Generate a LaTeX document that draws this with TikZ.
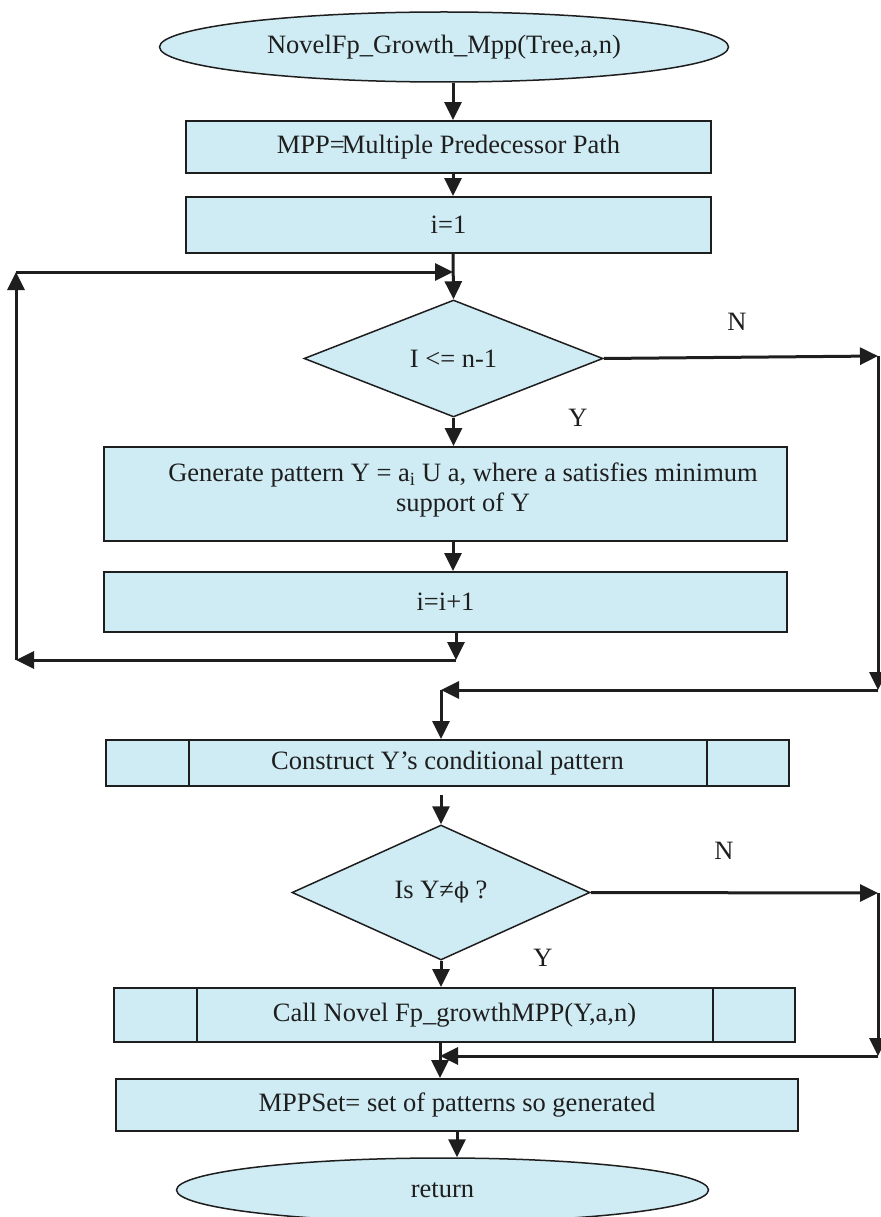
\documentclass[tikz,border=0pt]{standalone}
\usepackage{fontspec}
\setmainfont{Liberation Serif}
\newfontfamily\greekfont{DejaVu Serif}
\usetikzlibrary{shapes.geometric, arrows.meta, calc}
\definecolor{boxfill}{RGB}{207,235,243}
\definecolor{ink}{RGB}{30,30,30}

\begin{document}
\begin{tikzpicture}[x=1pt, y=-1pt,
  every node/.style={font=\fontsize{26.5}{30}\selectfont, text=ink},
  blk/.style={draw=ink, line width=1.8pt, fill=boxfill, rectangle, inner sep=0pt},
  subproc/.style={blk, path picture={
      \draw[ink, line width=1.8pt]
        ([xshift=83pt]path picture bounding box.north west) --
        ([xshift=83pt]path picture bounding box.south west)
        ([xshift=-82pt]path picture bounding box.north east) --
        ([xshift=-82pt]path picture bounding box.south east);}},
  oval/.style={draw=ink, line width=1.5pt, fill=boxfill, ellipse, inner sep=0pt},
  decide/.style={draw=ink, line width=1.5pt, fill=boxfill, diamond, inner sep=0pt},
  flow/.style={draw=ink, line width=3pt, -{Triangle[length=18pt,width=17pt]}},
  tag/.style={inner sep=0pt}]

\useasboundingbox (0,0) rectangle (880,1217);

% main column
\node[oval, minimum width=569pt, minimum height=70pt] (start) at (444,47)
  {NovelFp\_Growth\_Mpp(Tree,a,n)};
\node[blk, minimum width=525pt, minimum height=52pt] (mpp) at (448.5,147)
  {MPP=\kern-3pt Multiple Predecessor Path};
\node[blk, minimum width=525pt, minimum height=56pt] (init) at (448.5,225) {i=1};
\node[decide, minimum width=299pt, minimum height=117pt] (cond) at (453.5,358.5)
  {I <= n-1};
\node[blk, minimum width=683pt, minimum height=94pt] (gen) at (445.5,494) {};
\node[tag, align=center] (gentext) at (463,490)
  {Generate pattern Y = a\textsubscript{i} U a, where a satisfies minimum\\support of Y};
\node[blk, minimum width=683pt, minimum height=60pt] (inc) at (445.5,602) {i=i+1};
\node[subproc, minimum width=683pt, minimum height=46pt] (cons) at (447.5,763)
  {Construct Y’s conditional pattern};
\node[decide, minimum width=298pt, minimum height=135pt] (cond2) at (441,892.5)
  {Is Y≠{\greekfont\fontsize{22}{26}\selectfont ϕ} ?};
\node[subproc, minimum width=681pt, minimum height=54pt] (call) at (454.5,1015)
  {Call Novel Fp\_growthMPP(Y,a,n)};
\node[blk, minimum width=682pt, minimum height=52pt] (set) at (457,1105)
  {MPPSet= set of patterns so generated};
\node[oval, minimum width=532pt, minimum height=64pt] (ret) at (442.5,1190) {return};

% branch labels
\node[tag] (n1) at (737,322) {N};
\node[tag] (y1) at (578,418) {Y};
\node[tag] (n2) at (724,851) {N};
\node[tag] (y2) at (543,958) {Y};

% routing points
\coordinate (ax) at (453,0);
\coordinate (loopDown) at (456,660);
\coordinate (loopLeft) at (16,660);
\coordinate (loopTop) at (16,272);
\coordinate (loopIn) at (453,272);
\coordinate (outR1) at (878,356);
\coordinate (outB1) at (878,690);
\coordinate (join1) at (441,690);
\coordinate (outR2) at (878,893);
\coordinate (outB2) at (878,1056);
\coordinate (join2) at (440,1056);

% straight flow
\draw[flow] (start.south -| ax) -- (mpp.north -| ax);
\draw[flow] (mpp.south -| ax) -- (init.north -| ax);
\draw[flow] (init.south -| ax) -- (cond.north);
\draw[flow] (cond.south) -- (gen.north -| cond.south);
\draw[flow] (gen.south -| ax) -- (inc.north -| ax);

% loop back to the test
\draw[flow] (inc.south -| loopDown) -- (loopDown);
\draw[flow] (loopDown) -- (loopLeft);
\draw[flow] (loopLeft) -- (loopTop);
\draw[flow] (loopTop) -- (loopIn);

% exit of the first test
\draw[flow] (cond.east) -- (outR1);
\draw[flow] (outR1) -- (outB1);
\draw[flow] (outB1) -- (join1);
\draw[flow] (join1) -- (cons.north -| join1);

% second test
\draw[flow] ($(cond2.north)-(0,29)$) -- (cond2.north);
\draw[flow] (cond2.south) -- (call.north -| cond2.south);
\draw[flow] (cond2.east) -- (outR2);
\draw[flow] (outR2) -- (outB2);
\draw[flow] (outB2) -- (join2);
\draw[flow] (call.south -| join2) -- (set.north -| join2);
\draw[flow] (set.south) -- (set.south |- ret.north);
\end{tikzpicture}
\end{document}
